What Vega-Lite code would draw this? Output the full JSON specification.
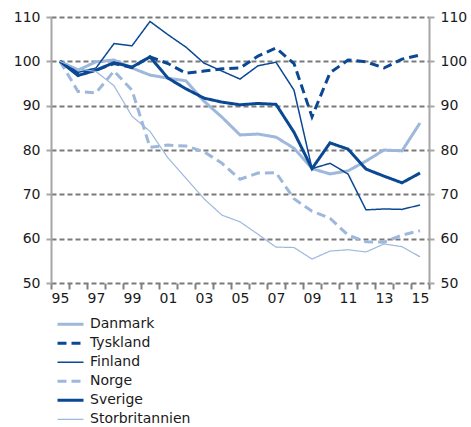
{
  "$schema": "https://vega.github.io/schema/vega-lite/v6.json",
  "autosize": {"type": "none"},
  "width": 378,
  "height": 266,
  "padding": {"left": 51, "top": 17, "right": 42, "bottom": 144},
  "config": {
    "font": "DejaVu Sans",
    "view": {"stroke": null},
    "axis": {"labelFont": "DejaVu Sans", "labelFontSize": 14, "labelColor": "#1a1a1a", "title": null}
  },
  "data": {"values": [
    {"year":1995,"land":"Danmark","value":100},{"year":1996,"land":"Danmark","value":98},{"year":1997,"land":"Danmark","value":99.9},{"year":1998,"land":"Danmark","value":100.3},{"year":1999,"land":"Danmark","value":98.5},{"year":2000,"land":"Danmark","value":96.9},{"year":2001,"land":"Danmark","value":96.2},{"year":2002,"land":"Danmark","value":95.6},{"year":2003,"land":"Danmark","value":91},{"year":2004,"land":"Danmark","value":87.4},{"year":2005,"land":"Danmark","value":83.4},{"year":2006,"land":"Danmark","value":83.6},{"year":2007,"land":"Danmark","value":82.9},{"year":2008,"land":"Danmark","value":80.4},{"year":2009,"land":"Danmark","value":75.8},{"year":2010,"land":"Danmark","value":74.6},{"year":2011,"land":"Danmark","value":75.3},{"year":2012,"land":"Danmark","value":77.5},{"year":2013,"land":"Danmark","value":80},{"year":2014,"land":"Danmark","value":79.8},{"year":2015,"land":"Danmark","value":86.1},
    {"year":1995,"land":"Tyskland","value":100},{"year":1996,"land":"Tyskland","value":97.2},{"year":1997,"land":"Tyskland","value":98},{"year":1998,"land":"Tyskland","value":99.5},{"year":1999,"land":"Tyskland","value":98.6},{"year":2000,"land":"Tyskland","value":101},{"year":2001,"land":"Tyskland","value":99.5},{"year":2002,"land":"Tyskland","value":97.3},{"year":2003,"land":"Tyskland","value":97.8},{"year":2004,"land":"Tyskland","value":98.3},{"year":2005,"land":"Tyskland","value":98.5},{"year":2006,"land":"Tyskland","value":101.2},{"year":2007,"land":"Tyskland","value":103},{"year":2008,"land":"Tyskland","value":99.5},{"year":2009,"land":"Tyskland","value":87.5},{"year":2010,"land":"Tyskland","value":97.4},{"year":2011,"land":"Tyskland","value":100.3},{"year":2012,"land":"Tyskland","value":99.9},{"year":2013,"land":"Tyskland","value":98.5},{"year":2014,"land":"Tyskland","value":100.5},{"year":2015,"land":"Tyskland","value":101.4},
    {"year":1995,"land":"Finland","value":100},{"year":1996,"land":"Finland","value":97.5},{"year":1997,"land":"Finland","value":98.5},{"year":1998,"land":"Finland","value":104},{"year":1999,"land":"Finland","value":103.5},{"year":2000,"land":"Finland","value":109},{"year":2001,"land":"Finland","value":106},{"year":2002,"land":"Finland","value":103.2},{"year":2003,"land":"Finland","value":99.6},{"year":2004,"land":"Finland","value":97.8},{"year":2005,"land":"Finland","value":96},{"year":2006,"land":"Finland","value":99},{"year":2007,"land":"Finland","value":99.8},{"year":2008,"land":"Finland","value":93.5},{"year":2009,"land":"Finland","value":75.8},{"year":2010,"land":"Finland","value":77},{"year":2011,"land":"Finland","value":74.6},{"year":2012,"land":"Finland","value":66.5},{"year":2013,"land":"Finland","value":66.7},{"year":2014,"land":"Finland","value":66.6},{"year":2015,"land":"Finland","value":67.6},
    {"year":1995,"land":"Norge","value":100},{"year":1996,"land":"Norge","value":93.2},{"year":1997,"land":"Norge","value":92.9},{"year":1998,"land":"Norge","value":97.8},{"year":1999,"land":"Norge","value":93.5},{"year":2000,"land":"Norge","value":80.6},{"year":2001,"land":"Norge","value":81.1},{"year":2002,"land":"Norge","value":80.9},{"year":2003,"land":"Norge","value":79.6},{"year":2004,"land":"Norge","value":77},{"year":2005,"land":"Norge","value":73.4},{"year":2006,"land":"Norge","value":74.8},{"year":2007,"land":"Norge","value":74.9},{"year":2008,"land":"Norge","value":69},{"year":2009,"land":"Norge","value":66.2},{"year":2010,"land":"Norge","value":64.6},{"year":2011,"land":"Norge","value":60.8},{"year":2012,"land":"Norge","value":59.3},{"year":2013,"land":"Norge","value":59.2},{"year":2014,"land":"Norge","value":60.8},{"year":2015,"land":"Norge","value":61.8},
    {"year":1995,"land":"Sverige","value":100},{"year":1996,"land":"Sverige","value":96.8},{"year":1997,"land":"Sverige","value":98},{"year":1998,"land":"Sverige","value":99.7},{"year":1999,"land":"Sverige","value":98.7},{"year":2000,"land":"Sverige","value":101},{"year":2001,"land":"Sverige","value":96.2},{"year":2002,"land":"Sverige","value":93.8},{"year":2003,"land":"Sverige","value":91.7},{"year":2004,"land":"Sverige","value":90.8},{"year":2005,"land":"Sverige","value":90.2},{"year":2006,"land":"Sverige","value":90.5},{"year":2007,"land":"Sverige","value":90.3},{"year":2008,"land":"Sverige","value":84},{"year":2009,"land":"Sverige","value":75.8},{"year":2010,"land":"Sverige","value":81.6},{"year":2011,"land":"Sverige","value":80.2},{"year":2012,"land":"Sverige","value":75.7},{"year":2013,"land":"Sverige","value":74.1},{"year":2014,"land":"Sverige","value":72.6},{"year":2015,"land":"Sverige","value":74.8},
    {"year":1995,"land":"Storbritannien","value":100},{"year":1996,"land":"Storbritannien","value":98.3},{"year":1997,"land":"Storbritannien","value":97.7},{"year":1998,"land":"Storbritannien","value":94.5},{"year":1999,"land":"Storbritannien","value":87.6},{"year":2000,"land":"Storbritannien","value":84.2},{"year":2001,"land":"Storbritannien","value":78.2},{"year":2002,"land":"Storbritannien","value":73.6},{"year":2003,"land":"Storbritannien","value":69},{"year":2004,"land":"Storbritannien","value":65.3},{"year":2005,"land":"Storbritannien","value":63.8},{"year":2006,"land":"Storbritannien","value":61},{"year":2007,"land":"Storbritannien","value":58.1},{"year":2008,"land":"Storbritannien","value":58},{"year":2009,"land":"Storbritannien","value":55.4},{"year":2010,"land":"Storbritannien","value":57.2},{"year":2011,"land":"Storbritannien","value":57.5},{"year":2012,"land":"Storbritannien","value":57},{"year":2013,"land":"Storbritannien","value":58.8},{"year":2014,"land":"Storbritannien","value":58.2},{"year":2015,"land":"Storbritannien","value":55.9}
  ]},
  "encoding": {
    "x": {
      "field": "year", "type": "quantitative",
      "scale": {"domain": [1994.5, 2015.5], "nice": false, "zero": false},
      "axis": {
        "values": [1994.5,1995.5,1996.5,1997.5,1998.5,1999.5,2000.5,2001.5,2002.5,2003.5,2004.5,2005.5,2006.5,2007.5,2008.5,2009.5,2010.5,2011.5,2012.5,2013.5,2014.5,2015.5],
        "labelExpr": "((datum.value + 0.5) % 2 == 1 && datum.value < 2015) ? slice(toString(datum.value + 0.5), 2) : ''",
        "labelOffset": 9, "labelOverlap": false, "labelFlush": false, "labelBound": false,
        "domain": false, "grid": false,
        "tickColor": "#808080", "tickWidth": 2, "tickSize": 6, "labelPadding": 2
      }
    }
  },
  "layer": [
    {
      "mark": {"type": "line", "strokeCap": "butt", "strokeJoin": "miter"},
      "encoding": {
        "y": {
          "field": "value", "type": "quantitative",
          "scale": {"domain": [50, 110], "nice": false, "zero": false},
          "axis": {
            "orient": "left", "values": [50,60,70,80,90,100,110],
            "grid": true, "gridColor": "#7a7a7a", "gridWidth": 2, "gridDash": [5, 3],
            "domainColor": "#a6a6a6", "domainWidth": 2, "tickColor": "#a6a6a6", "tickWidth": 2, "tickSize": 5, "labelPadding": 6
          }
        },
        "color": {
          "field": "land", "type": "nominal",
          "scale": {"domain": ["Danmark","Tyskland","Finland","Norge","Sverige","Storbritannien"],
                    "range": ["#9db8dc","#0a4893","#0a4893","#9db8dc","#0a4893","#9db8dc"]},
          "legend": {
            "title": null, "orient": "none", "legendX": 5, "legendY": 298,
            "symbolType": "stroke", "symbolSize": 676, "clipHeight": 18.6, "rowPadding": 0,
            "labelFontSize": 14, "labelFont": "DejaVu Sans", "labelColor": "#1a1a1a", "labelOffset": 5
          }
        },
        "strokeDash": {
          "field": "land", "type": "nominal",
          "scale": {"domain": ["Danmark","Tyskland","Finland","Norge","Sverige","Storbritannien"],
                    "range": [[1,0],[9,5],[1,0],[9,5],[1,0],[1,0]]},
          "legend": null
        },
        "strokeWidth": {
          "field": "land", "type": "ordinal",
          "scale": {"type": "ordinal", "domain": ["Danmark","Tyskland","Finland","Norge","Sverige","Storbritannien"],
                    "range": [3, 3, 1.5, 3, 3, 1.2]},
          "legend": null
        },
        "order": {"field": "year"}
      }
    },
    {
      "mark": {"type": "point", "opacity": 0},
      "encoding": {
        "y": {
          "field": "value", "type": "quantitative",
          "scale": {"domain": [50, 110], "nice": false, "zero": false},
          "axis": {
            "orient": "right", "values": [50,60,70,80,90,100,110], "grid": false,
            "domainColor": "#a6a6a6", "domainWidth": 2, "tickColor": "#a6a6a6", "tickWidth": 2, "tickSize": 5, "labelPadding": 6
          }
        }
      }
    }
  ],
  "resolve": {"scale": {"y": "independent"}}
}
